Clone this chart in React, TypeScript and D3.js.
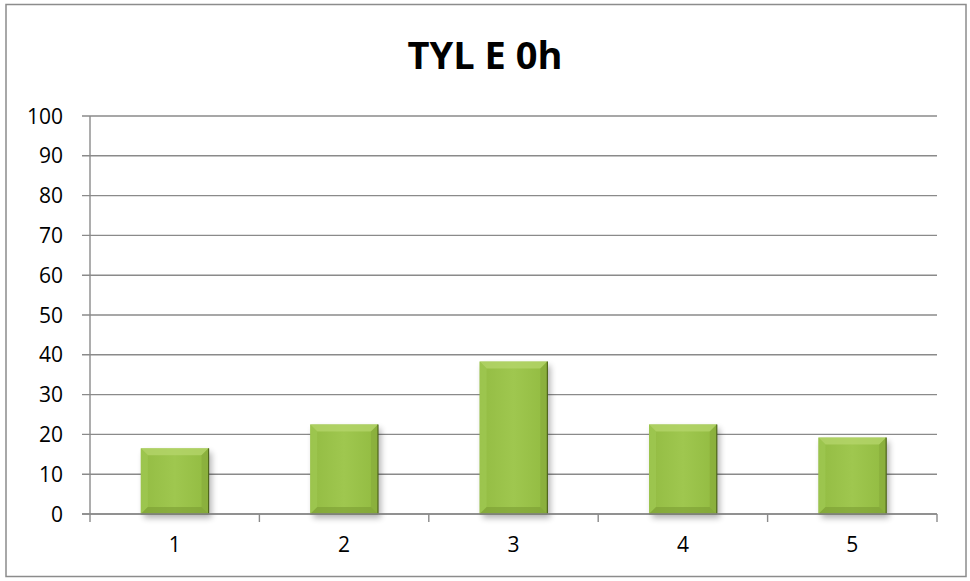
import React from "react";
import * as d3 from "d3";

const categories = ["1", "2", "3", "4", "5"];
const values = [16.5, 22.5, 38.3, 22.5, 19.2];
const yTicks = [0, 10, 20, 30, 40, 50, 60, 70, 80, 90, 100];
const title = "TYL E 0h";

const W = 970;
const H = 581;
const plot = { left: 90, right: 937, top: 116, bottom: 514 };

export default function App() {
  const x = d3
    .scaleBand<string>()
    .domain(categories)
    .range([plot.left, plot.right])
    .paddingInner(0.6)
    .paddingOuter(0.3);
  const xb = d3.scaleBand<string>().domain(categories).range([plot.left, plot.right]);
  const y = d3.scaleLinear().domain([0, 100]).range([plot.bottom, plot.top]);
  const font = "'Open Sans', 'Liberation Sans', Arial, sans-serif";
  const grid = "#8a8a8a";

  const boundaries = categories.map((c) => xb(c)!).concat([plot.right]);

  return (
    <svg width={W} height={H} style={{ position: "absolute", left: 0, top: 0 }}>
      <defs>
        <linearGradient id="face" x1="0" y1="0" x2="1" y2="0">
          <stop offset="0" stopColor="#93bc43" />
          <stop offset="0.5" stopColor="#9fc74f" />
          <stop offset="1" stopColor="#92bb41" />
        </linearGradient>
        <filter id="shadow" x="-20%" y="-20%" width="140%" height="140%">
          <feGaussianBlur stdDeviation="3" />
        </filter>
      </defs>
      <rect x={0} y={0} width={W} height={H} fill="#fff" />
      <rect x={6} y={4.5} width={960} height={572} fill="#fff" stroke="#8c8c8c" strokeWidth={1.5} />
      <text
        x={485}
        y={69}
        textAnchor="middle"
        fontFamily={font}
        fontWeight="bold"
        fontSize={38}
        fill="#000"
      >
        {title}
      </text>
      {yTicks.map((t) => (
        <g key={t}>
          <line
            x1={plot.left - 8}
            x2={plot.right}
            y1={y(t)}
            y2={y(t)}
            stroke={grid}
            strokeWidth={1.4}
          />
          <text
            x={63}
            y={y(t)}
            dy="0.36em"
            textAnchor="end"
            fontFamily={font}
            fontSize={21}
            fill="#000"
          >
            {t}
          </text>
        </g>
      ))}
      <line x1={plot.left} x2={plot.left} y1={plot.top} y2={plot.bottom} stroke={grid} strokeWidth={1.4} />
      {boundaries.map((b, i) => (
        <line key={i} x1={b} x2={b} y1={plot.bottom} y2={plot.bottom + 8} stroke={grid} strokeWidth={1.4} />
      ))}
      {categories.map((c, i) => {
        const bx = x(c)!;
        const bw = x.bandwidth();
        const by = y(values[i]);
        const bh = plot.bottom - by;
        const e = Math.min(7, bh / 2);
        const x0 = bx, x1 = bx + bw, y0 = by, y1 = by + bh;
        return (
          <g key={c}>
            <rect x={x0 + 3} y={y0 + 4} width={bw} height={bh} fill="#000" opacity={0.3} filter="url(#shadow)" />
            <rect x={x0} y={y0} width={bw} height={bh} fill="url(#face)" />
            <polygon points={`${x0},${y0} ${x1},${y0} ${x1 - e},${y0 + e} ${x0 + e},${y0 + e}`} fill="#b6d66c" opacity={0.75} />
            <polygon points={`${x0},${y0} ${x0 + e},${y0 + e} ${x0 + e},${y1 - e} ${x0},${y1}`} fill="#a2c955" opacity={0.6} />
            <polygon points={`${x1},${y0} ${x1},${y1} ${x1 - e},${y1 - e} ${x1 - e},${y0 + e}`} fill="#85a83a" opacity={0.6} />
            <polygon points={`${x0},${y1} ${x0 + e},${y1 - e} ${x1 - e},${y1 - e} ${x1},${y1}`} fill="#7c9d33" opacity={0.6} />
            <line x1={x1} x2={x1} y1={y0} y2={y1} stroke="#4f661b" strokeWidth={1.2} />
            <line x1={x0} x2={x1} y1={y1} y2={y1} stroke="#4f661b" strokeWidth={1.2} />
          </g>
        );
      })}
      <line x1={plot.left - 8} x2={plot.right} y1={plot.bottom} y2={plot.bottom} stroke={grid} strokeWidth={1.4} />
      {categories.map((c) => (
        <text
          key={c}
          x={xb(c)! + xb.bandwidth() / 2}
          y={552}
          textAnchor="middle"
          fontFamily={font}
          fontSize={21}
          fill="#000"
        >
          {c}
        </text>
      ))}
    </svg>
  );
}
